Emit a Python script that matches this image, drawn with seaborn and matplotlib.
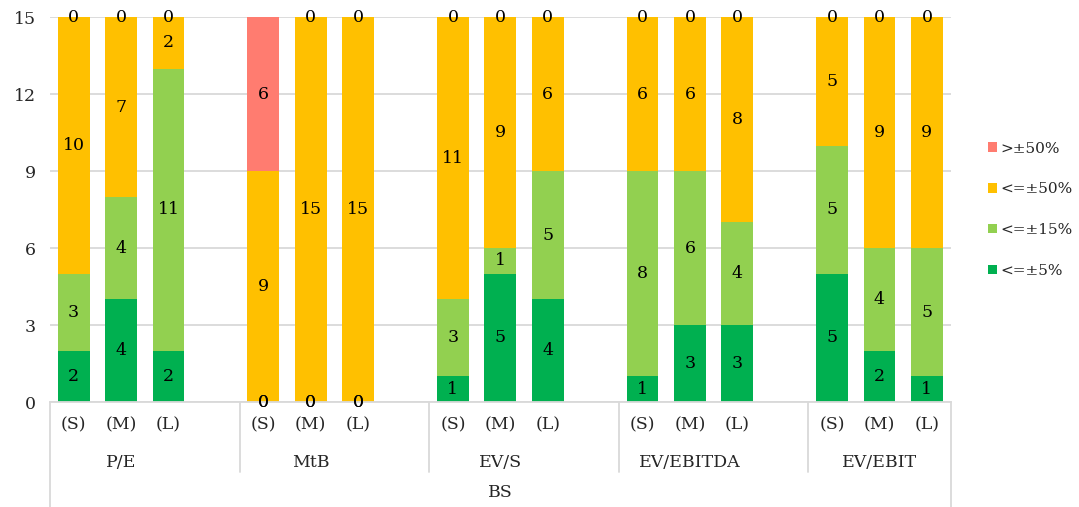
import numpy as np
import pandas as pd
import matplotlib
matplotlib.use('Agg')
import matplotlib.pyplot as plt
import matplotlib.transforms as mtransforms
from matplotlib.patches import Patch
import seaborn as sns

# data
groups = ['P/E', 'MtB', 'EV/S', 'EV/EBITDA', 'EV/EBIT']
sizes = ['(S)', '(M)', '(L)']
series = ['<=±5%', '<=±15%', '<=±50%', '>±50%']
colors = ['#00B050', '#92D050', '#FFC000', '#FF7C70']
le5 = [2, 4, 2, 0, 0, 0, 1, 5, 4, 1, 3, 3, 5, 2, 1]
le15 = [3, 4, 11, 0, 0, 0, 3, 1, 5, 8, 6, 4, 5, 4, 5]
le50 = [10, 7, 2, 9, 15, 15, 11, 9, 6, 6, 6, 8, 5, 9, 9]
gt50 = [0, 0, 0, 6, 0, 0, 0, 0, 0, 0, 0, 0, 0, 0, 0]
top_label = 'BS'

sns.set_style('white')
plt.rcParams['font.family'] = ['DejaVu Serif']
fs = 12.5

# slot order with an empty slot between groups
order = []
bar_slots = []
for g_i, g in enumerate(groups):
    for s in sizes:
        bar_slots.append(len(order))
        order.append(g + ' ' + s)
    if g_i < len(groups) - 1:
        order.append('gap%d' % g_i)

vals = np.array([le5, le15, le50, gt50], dtype=float)
cum = np.cumsum(vals, axis=0)

df = pd.DataFrame({'slot': [g + ' ' + s for g in groups for s in sizes]})
for k, name in enumerate(series):
    df[name] = cum[k]

fig, ax = plt.subplots(figsize=(10.79, 5.07), dpi=100)
fig.subplots_adjust(left=0.0463, right=0.881, bottom=0.207, top=0.966)

# draw cumulative layers from tallest to shortest
for k in range(len(series) - 1, -1, -1):
    sns.barplot(data=df, x='slot', y=series[k], order=order, color=colors[k],
                width=0.67, saturation=1, linewidth=0, ax=ax, zorder=2)

ax.set_ylim(0, 15)
ax.set_xlim(-0.5, len(order) - 0.5)
ax.set_yticks(np.arange(0, 16, 3))
ax.tick_params(axis='y', labelsize=fs, length=0, pad=10)
ax.yaxis.grid(True, color='#D9D9D9', linewidth=1.3, zorder=0)
ax.set_axisbelow(True)
for sp in ['left', 'right', 'top']:
    ax.spines[sp].set_visible(False)
ax.spines['bottom'].set_color('#D9D9D9')
ax.spines['bottom'].set_linewidth(1.3)
ax.set_xticks([])
ax.set_xlabel('')
ax.set_ylabel('')

# value labels
for j, x in enumerate(bar_slots):
    for k in range(len(series)):
        v = vals[k, j]
        bottom = cum[k, j] - v
        ax.text(x, bottom + v / 2, '%d' % v, ha='center', va='center',
                fontsize=fs, color='black', zorder=5)

# multi-level category axis
trans = mtransforms.blended_transform_factory(ax.transData, ax.transAxes)
for j, x in enumerate(bar_slots):
    ax.text(x, -0.06, sizes[j % 3], ha='center', va='center', fontsize=fs,
            transform=trans)
for g_i, g in enumerate(groups):
    c = bar_slots[g_i * 3 + 1]
    ax.text(c, -0.156, g, ha='center', va='center', fontsize=fs, transform=trans)
ax.text((len(order) - 1) / 2, -0.236, top_label, ha='center', va='center',
        fontsize=fs, transform=trans)

line_kw = dict(color='#D9D9D9', linewidth=1.3, transform=trans, clip_on=False)
for g_i in range(1, len(groups)):
    xd = bar_slots[g_i * 3] - 0.5
    ax.plot([xd, xd], [0, -0.182], **line_kw)
for xd in [-0.5, len(order) - 0.5]:
    ax.plot([xd, xd], [0, -0.28], **line_kw)

handles = [Patch(facecolor=colors[k], edgecolor='none', label=series[k])
           for k in range(len(series) - 1, -1, -1)]
ax.legend(handles=handles, loc='center left', bbox_to_anchor=(1.035, 0.5),
          frameon=False, fontsize=11, handlelength=0.6, handleheight=0.6,
          handletextpad=0.2, labelspacing=1.75, borderaxespad=0)

plt.savefig('out.png', dpi=100)
plt.close()
